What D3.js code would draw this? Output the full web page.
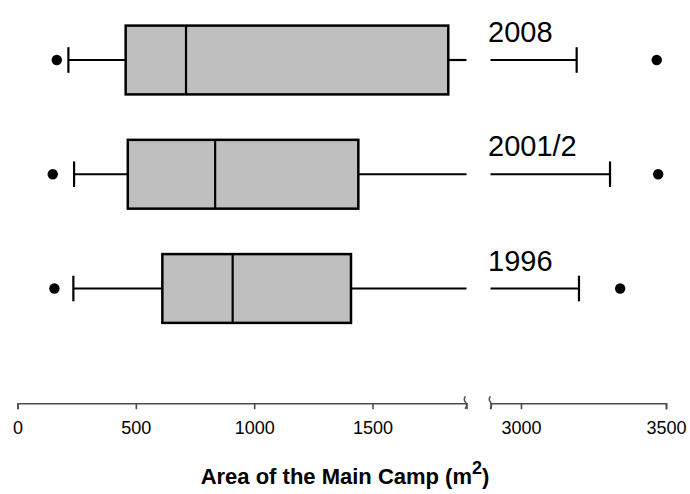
<!DOCTYPE html>
<html>
<head>
  <meta charset="utf-8">
  <title>Area of the Main Camp</title>
  <script src="https://cdn.jsdelivr.net/npm/d3@7"></script>
  <style>
    body { margin: 0; background: #fff; }
    svg { font-family: Arial, "Liberation Sans", sans-serif; }
  </style>
</head>
<body>
  <script>
    // Box summaries per survey year (m^2)
    const years = ['2008', '2001/2', '1996'];
    const lowOutlier = [166, 149, 156];
    const lowWhisker = [215, 239, 236];
    const q1 = [457, 466, 612];
    const median = [712, 835, 909];
    const q3 = [1820, 1440, 1409];
    const highWhisker = [3192, 3307, 3200];
    const highOutlier = [3468, 3473, 3342];

    const leftTicks = [0, 500, 1000, 1500];
    const rightTicks = [3000, 3500];

    const width = 690;
    const height = 494;

    const svg = d3.select('body').append('svg')
      .attr('width', width)
      .attr('height', height);

    // Broken x axis: two linear pieces
    const xLeft = d3.scaleLinear().domain([0, 1897]).range([17.5, 466.5]);
    const xRight = d3.scaleLinear().domain([2895, 3500]).range([490.5, 666]);
    const x = v => v <= xLeft.domain()[1] ? xLeft(v) : xRight(v);

    const y = d3.scalePoint().domain(years).range([60, 288.5]);
    const boxHalf = 34.4;
    const capHalf = 12.8;

    const rows = years.map((yr, i) => ({
      year: yr, lo: lowOutlier[i], lw: lowWhisker[i], q1: q1[i],
      med: median[i], q3: q3[i], hw: highWhisker[i], ho: highOutlier[i]
    }));

    const g = svg.selectAll('.row')
      .data(rows)
      .enter().append('g')
      .attr('class', 'row');

    // lower whisker
    g.append('line')
      .attr('x1', d => x(d.lw)).attr('x2', d => x(d.q1))
      .attr('y1', d => y(d.year)).attr('y2', d => y(d.year))
      .attr('stroke', '#000').attr('stroke-width', 2.2);

    // upper whisker, split at the break
    g.append('line')
      .attr('x1', d => x(d.q3)).attr('x2', xLeft.range()[1])
      .attr('y1', d => y(d.year)).attr('y2', d => y(d.year))
      .attr('stroke', '#000').attr('stroke-width', 2.2);
    g.append('line')
      .attr('x1', xRight.range()[0]).attr('x2', d => x(d.hw))
      .attr('y1', d => y(d.year)).attr('y2', d => y(d.year))
      .attr('stroke', '#000').attr('stroke-width', 2.2);

    // caps
    g.selectAll('.cap')
      .data(d => [d.lw, d.hw].map(v => ({ v, yr: d.year })))
      .enter().append('line')
      .attr('class', 'cap')
      .attr('x1', d => x(d.v)).attr('x2', d => x(d.v))
      .attr('y1', d => y(d.yr) - capHalf).attr('y2', d => y(d.yr) + capHalf)
      .attr('stroke', '#000').attr('stroke-width', 2.2);

    // box
    g.append('rect')
      .attr('x', d => x(d.q1))
      .attr('y', d => y(d.year) - boxHalf)
      .attr('width', d => x(d.q3) - x(d.q1))
      .attr('height', boxHalf * 2)
      .attr('fill', '#bfbfbf')
      .attr('stroke', '#000')
      .attr('stroke-width', 2.5);

    // median
    g.append('line')
      .attr('x1', d => x(d.med)).attr('x2', d => x(d.med))
      .attr('y1', d => y(d.year) - boxHalf).attr('y2', d => y(d.year) + boxHalf)
      .attr('stroke', '#000').attr('stroke-width', 2.2);

    // outliers
    g.selectAll('.out')
      .data(d => [d.lo, d.ho].map(v => ({ v, yr: d.year })))
      .enter().append('circle')
      .attr('class', 'out')
      .attr('cx', d => x(d.v))
      .attr('cy', d => y(d.yr))
      .attr('r', 5.2)
      .attr('fill', '#000');

    // year labels
    g.append('text')
      .attr('x', 488)
      .attr('y', d => y(d.year) - 18)
      .attr('font-size', 29)
      .text(d => d.year);

    // axis
    const axisY = 403.3;
    const axisColor = '#4d4d4d';
    const fmt = d3.format('d');
    const axL = svg.append('g')
      .attr('transform', `translate(0,${axisY})`)
      .call(d3.axisBottom(xLeft).tickValues(leftTicks).tickFormat(fmt)
        .tickSizeOuter(0).tickSize(6).tickPadding(12));
    const axR = svg.append('g')
      .attr('transform', `translate(0,${axisY})`)
      .call(d3.axisBottom(xRight).tickValues(rightTicks).tickFormat(fmt)
        .tickSizeOuter(0).tickSize(6).tickPadding(12));
    [axL, axR].forEach(a => {
      a.select('.domain').attr('stroke', axisColor).attr('stroke-width', 1.6);
      a.selectAll('.tick line').attr('stroke', axisColor).attr('stroke-width', 1.6);
      a.selectAll('.tick text')
        .attr('fill', '#000')
        .attr('font-size', 18)
        .attr('font-family', 'Arial, "Liberation Sans", sans-serif');
    });

    // break marks
    const squiggle = bx => `M${bx},${axisY - 7} q-2.5,3 0,6 q2.5,3 -0.5,6.5`;
    svg.selectAll('.brk')
      .data([xLeft.range()[1] - 1, xRight.range()[0]])
      .enter().append('path')
      .attr('class', 'brk')
      .attr('d', d => squiggle(d))
      .attr('fill', 'none')
      .attr('stroke', axisColor)
      .attr('stroke-width', 1.4);

    // axis title
    const title = svg.append('text')
      .attr('x', width / 2)
      .attr('y', 484)
      .attr('text-anchor', 'middle')
      .attr('font-weight', 'bold')
      .attr('font-size', 22);
    title.append('tspan').text('Area of the Main Camp (m');
    title.append('tspan').attr('dy', -10).attr('font-size', 18).text('2');
    title.append('tspan').attr('dy', 10).text(')');
  </script>
</body>
</html>
